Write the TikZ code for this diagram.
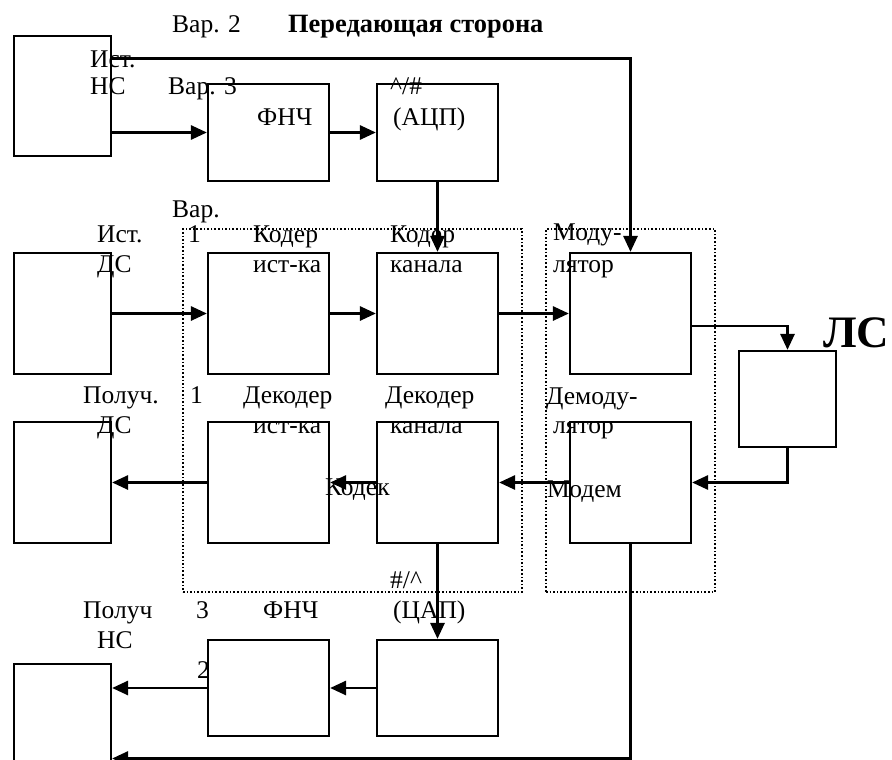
\documentclass[tikz,border=0pt]{standalone}
\usepackage{fontspec}
\setmainfont{Liberation Serif}
\usetikzlibrary{arrows.meta}
\tikzset{
  blk/.style={draw, line width=2.2pt, rectangle, inner sep=0pt, minimum width=121pt, minimum height=121pt},
  conn/.style={line width=2.8pt, -{Triangle[length=16pt,width=14pt]}},
  grp/.style={draw, line width=1.6pt, dash pattern=on 1.6pt off 2pt, rectangle, inner sep=0pt},
  lbl/.style={anchor=base west, inner sep=0pt, font=\fontsize{25.5}{29}\selectfont},
  blbl/.style={anchor=base west, inner sep=0pt, font=\fontsize{26.4}{30}\selectfont\bfseries},
}
\begin{document}
\begin{tikzpicture}[x=1pt,y=-1pt]
\useasboundingbox (0,0) rectangle (892,760);
% dotted groups
\node[grp, minimum width=339pt, minimum height=363pt] (codec) at (352.5,410.5) {};
\node[grp, minimum width=169pt, minimum height=363pt] (modem) at (630.5,410.5) {};
% blocks
\node[blk, minimum width=97pt, minimum height=120pt] (ns) at (62.5,96) {};
\node[blk, minimum height=97pt] (fnch1) at (268.5,132.5) {};
\node[blk, minimum height=97pt] (acp) at (437.5,132.5) {};
\node[blk, minimum width=97pt] (ds) at (62.5,313.5) {};
\node[blk] (kist) at (268.5,313.5) {};
\node[blk] (kkan) at (437.5,313.5) {};
\node[blk] (mod) at (630.5,313.5) {};
\node[blk, minimum width=97pt, minimum height=96pt] (ls) at (787.5,399) {};
\node[blk, minimum width=97pt] (pds) at (62.5,482.5) {};
\node[blk] (dist) at (268.5,482.5) {};
\node[blk] (dkan) at (437.5,482.5) {};
\node[blk] (dem) at (630.5,482.5) {};
\node[blk, minimum height=96pt] (cap) at (437.5,688) {};
\node[blk, minimum height=96pt] (fnch2) at (268.5,688) {};
\node[blk, minimum width=97pt, minimum height=120pt] (pns) at (62.5,724) {};
\coordinate (bot) at (0,758.5);
% connectors
\draw[conn] (ns.east |- fnch1.west) -- (fnch1.west);
\draw[conn] (fnch1.east) -- (acp.west);
\draw[conn] ([yshift=-24pt]ns.north east) -| (mod.north);
\draw[conn] (acp.south) -- (kkan.north);
\draw[conn] (ds.east) -- (kist.west);
\draw[conn] (kist.east) -- (kkan.west);
\draw[conn] (kkan.east) -- (mod.west);
\draw[conn] ([yshift=-12.5pt]mod.east) -| (ls.north);
\draw[conn] (ls.south) |- (dem.east);
\draw[conn] (dem.west) -- (dkan.east);
\draw[conn] (dkan.west) -- (dist.east);
\draw[conn] (dist.west) -- (pds.east);
\draw[conn] (dkan.south) -- (cap.north);
\draw[conn] (cap.west) -- (fnch2.east);
\draw[conn] (fnch2.west) -- (fnch2.west -| pns.east);
\draw[conn] (dem.south) |- (bot -| pns.east);
% labels
\node[lbl] (t1) at (172,33) {Вар. 2};
\node[blbl] (t2) at (288,33) {Передающая сторона};
\node[lbl] (t3) at (90,67) {Ист.};
\node[lbl] (t4) at (90,95) {НС};
\node[lbl] (t5) at (168,95) {Вар. 3};
\node[lbl] (t6) at (257,125) {ФНЧ};
\node[lbl] (t7) at (390,95) {\^{}/\#};
\node[lbl] (t8) at (393,125) {(АЦП)};
\node[lbl] (t9) at (172,217) {Вар.};
\node[lbl] (t10) at (97,242) {Ист.};
\node[lbl] (t11) at (188,242) {1};
\node[lbl] (t12) at (253,242) {Кодер};
\node[lbl] (t13) at (390,242) {Кодер};
\node[lbl] (t14) at (553,240) {Моду-};
\node[lbl] (t15) at (97,272) {ДС};
\node[lbl] (t16) at (253,272) {ист-ка};
\node[lbl] (t17) at (390,272) {канала};
\node[lbl] (t18) at (553,272) {лятор};
\node[blbl, font=\fontsize{45}{50}\selectfont\bfseries] (t19) at (823,347) {ЛС};
\node[lbl] (t20) at (83,403) {Получ.};
\node[lbl] (t21) at (190,403) {1};
\node[lbl] (t22) at (243,403) {Декодер};
\node[lbl] (t23) at (385,403) {Декодер};
\node[lbl] (t24) at (546,404) {Демоду-};
\node[lbl] (t25) at (97,433) {ДС};
\node[lbl] (t26) at (253,433) {ист-ка};
\node[lbl] (t27) at (390,433) {канала};
\node[lbl] (t28) at (553,433) {лятор};
\node[lbl] (t29) at (325,495) {Кодек};
\node[lbl] (t30) at (547,497) {Модем};
\node[lbl] (t31) at (390,588) {\#/\^{}};
\node[lbl] (t32) at (83,618) {Получ};
\node[lbl] (t33) at (196,618) {3};
\node[lbl] (t34) at (263,618) {ФНЧ};
\node[lbl] (t35) at (393,618) {(ЦАП)};
\node[lbl] (t36) at (97,648) {НС};
\node[lbl] (t37) at (197,678) {2};
\end{tikzpicture}
\end{document}
